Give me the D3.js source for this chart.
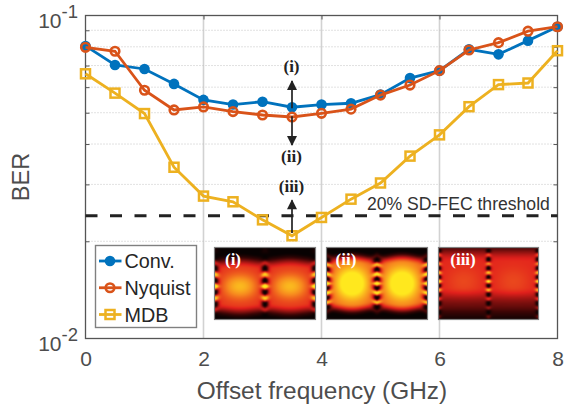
<!DOCTYPE html>
<html>
<head>
<meta charset="utf-8">
<script src="https://cdn.jsdelivr.net/npm/d3@7"></script>
<style>
  html, body { margin: 0; padding: 0; background: #fff; }
  svg { display: block; }
  text { font-family: "Liberation Sans", Arial, sans-serif; }
</style>
</head>
<body>
<div id="graph"></div>
<script>
var offsets = [0, 0.5, 1, 1.5, 2, 2.5, 3, 3.5, 4, 4.5, 5, 5.5, 6, 6.5, 7, 7.5, 8];
var conv = [0.0805, 0.0703, 0.0683, 0.0614, 0.0548, 0.0530, 0.0541, 0.0520, 0.0530, 0.0535, 0.0569, 0.0640, 0.0675, 0.0786, 0.0758, 0.0836, 0.0923];
var nyquist = [0.0797, 0.0775, 0.0587, 0.0510, 0.0521, 0.0504, 0.0492, 0.0485, 0.0498, 0.0513, 0.0567, 0.0609, 0.0675, 0.0782, 0.0824, 0.0894, 0.0923];
var mdb = [0.0660, 0.0575, 0.0497, 0.0339, 0.0276, 0.0265, 0.0233, 0.0208, 0.0237, 0.0270, 0.0303, 0.0367, 0.0427, 0.0522, 0.0611, 0.0618, 0.0778];
var threshold = 0.024;
var xTicks = [0, 2, 4, 6, 8];
var yMinor = [0.09, 0.08, 0.07, 0.06, 0.05, 0.04, 0.03, 0.02];
var seriesNames = ["Conv.", "Nyquist", "MDB"];
var seriesColors = ["#0072BD", "#D95319", "#EDB120"];

var width = 564,
    height = 409,
    left = 85.5,
    right = 557.5,
    top_ = 15.5,
    bottom = 338.5;

var svg = d3.select("#graph").append("svg")
    .attr("width", width)
    .attr("height", height);

var x = d3.scaleLinear().domain([0, 8]).range([left, right]);
var y = d3.scaleLog().domain([0.01, 0.1]).range([bottom, top_]);

// grid
svg.append("g").selectAll("line")
    .data(xTicks.slice(1, 4))
    .enter().append("line")
    .attr("x1", function(d) { return x(d); })
    .attr("x2", function(d) { return x(d); })
    .attr("y1", top_)
    .attr("y2", bottom)
    .attr("stroke", "#d2d2d2")
    .attr("stroke-width", 1.6);

svg.append("g").selectAll("line")
    .data(yMinor)
    .enter().append("line")
    .attr("x1", left)
    .attr("x2", right)
    .attr("y1", function(d) { return y(d); })
    .attr("y2", function(d) { return y(d); })
    .attr("stroke", "#c4c4c4")
    .attr("stroke-width", 1)
    .attr("stroke-dasharray", "1 2");

// eye diagram insets
var hot = d3.scaleLinear()
    .domain([0, 0.14, 0.45, 0.72, 1])
    .range(["#080202", "#3a0505", "#e2201c", "#f78a1e", "#ffe81e"])
    .clamp(true);

function smooth(a, b, t) {
    var s = Math.max(0, Math.min(1, (t - a) / (b - a)));
    return s * s * (3 - 2 * s);
}

function eye(p, w, h) {
    var canvas = document.createElement("canvas");
    canvas.width = w;
    canvas.height = h;
    var ctx = canvas.getContext("2d");
    for (var j = 0; j < h; j++) {
        for (var i = 0; i < w; i++) {
            var u = i / (w - 1), v = j / (h - 1);
            var d = Math.abs(v - p.center);
            var e = Math.cos(4 * Math.PI * u);
            var half = p.half - p.pinch * (e + 1) / 2;
            var env = 1 - smooth(half - p.soft, half + p.soft, d);
            var flat = Math.pow((1 - e) / 2, 0.8);
            var q = d / p.spread;
            var body = env * (p.base + p.glow * Math.exp(-q * q) * flat);
            var dc = Math.min(Math.abs(u), Math.abs(u - 0.5), Math.abs(u - 1));
            var gx = Math.exp(-dc * dc / (p.sw * p.sw));
            var bent = d + p.bend * dc;
            var stripe = 0.5 + 0.5 * Math.cos(2 * Math.PI * bent / p.period);
            var sv = Math.pow(stripe, 1.4) * Math.max(0.3, 1.08 - d * p.fade);
            var val = body * (1 - gx) + gx * sv * (p.full ? 1 : (0.15 + env));
            // the lower half of (iii) is duller
            if (p.full) val *= 1 - 0.45 * smooth(0.55, 0.8, v);
            ctx.fillStyle = hot(val);
            ctx.fillRect(i, j, 1, 1);
        }
    }
    return canvas.toDataURL();
}

var insets = [
    { label: "(i)", x0: 214.5, x1: 315.5, lx: 233, center: 0.54, half: 0.37, pinch: 0.03, soft: 0.11, base: 0.5, glow: 0.36, spread: 0.17, sw: 0.036, bend: 0.3, period: 0.17, fade: 1.5, full: false },
    { label: "(ii)", x0: 326.5, x1: 427.5, lx: 346, center: 0.5, half: 0.38, pinch: 0.04, soft: 0.09, base: 0.6, glow: 0.6, spread: 0.24, sw: 0.04, bend: 0.4, period: 0.135, fade: 1.0, full: false },
    { label: "(iii)", x0: 438.5, x1: 538.5, lx: 463, center: 0.47, half: 0.44, pinch: 0, soft: 0.17, base: 0.47, glow: 0.08, spread: 0.2, sw: 0.026, bend: 0.2, period: 0.125, fade: 1.3, full: true }
];
var insetTop = 247.5, insetBottom = 319.5;

var insetG = svg.append("g").selectAll("g")
    .data(insets)
    .enter().append("g");

insetG.append("image")
    .attr("x", function(d) { return d.x0; })
    .attr("y", insetTop)
    .attr("width", function(d) { return d.x1 - d.x0; })
    .attr("height", insetBottom - insetTop)
    .attr("preserveAspectRatio", "none")
    .attr("href", function(d) { return eye(d, Math.round(d.x1 - d.x0), insetBottom - insetTop); });

insetG.append("rect")
    .attr("x", function(d) { return d.x0; })
    .attr("y", insetTop)
    .attr("width", function(d) { return d.x1 - d.x0; })
    .attr("height", insetBottom - insetTop)
    .attr("fill", "none")
    .attr("stroke", "#808080")
    .attr("stroke-width", 1.2);

insetG.append("text")
    .attr("x", function(d) { return d.lx; })
    .attr("y", 265)
    .attr("text-anchor", "middle")
    .attr("fill", "#fff")
    .style("font-family", "'Liberation Serif', serif")
    .style("font-weight", "bold")
    .style("font-size", "17px")
    .text(function(d) { return d.label; });

// axes box
svg.append("rect")
    .attr("x", left)
    .attr("y", top_)
    .attr("width", right - left)
    .attr("height", bottom - top_)
    .attr("fill", "none")
    .attr("stroke", "#555")
    .attr("stroke-width", 1.3);

var xAxis = d3.axisBottom(x).tickValues(xTicks).tickSize(0).tickPadding(13).tickFormat(d3.format("d"));
var xg = svg.append("g").attr("transform", "translate(0," + bottom + ")").call(xAxis);
xg.select(".domain").remove();
xg.selectAll("text")
    .style("font-size", "21px")
    .style("font-family", "'Liberation Sans', Arial, sans-serif")
    .attr("fill", "#4d4d4d");

var yAxis = d3.axisLeft(y).tickValues(yMinor).tickSize(-4).tickFormat("");
var yg = svg.append("g").attr("transform", "translate(" + left + ",0)").call(yAxis);
yg.select(".domain").remove();
yg.selectAll("line").attr("stroke", "#555");

var yAxisR = d3.axisRight(y).tickValues(yMinor).tickSize(-4).tickFormat("");
var yr = svg.append("g").attr("transform", "translate(" + right + ",0)").call(yAxisR);
yr.select(".domain").remove();
yr.selectAll("line").attr("stroke", "#555");

var xAxisTop = d3.axisTop(x).tickValues(xTicks.slice(1, 4)).tickSize(-4).tickFormat("");
var xt = svg.append("g").attr("transform", "translate(0," + top_ + ")").call(xAxisTop);
xt.select(".domain").remove();
xt.selectAll("line").attr("stroke", "#555");

// y decade labels
var decades = [{ v: 0.1, sup: "-1" }, { v: 0.01, sup: "-2" }];
var decade = svg.append("g").selectAll("g")
    .data(decades)
    .enter().append("g")
    .attr("transform", function(d) { return "translate(0," + y(d.v) + ")"; });
decade.append("text")
    .attr("x", 61.5)
    .attr("y", 12.2)
    .attr("text-anchor", "end")
    .attr("fill", "#4d4d4d")
    .style("font-size", "21px")
    .text("10");
decade.append("text")
    .attr("x", 61.5)
    .attr("y", 2.5)
    .attr("fill", "#4d4d4d")
    .style("font-size", "18.5px")
    .text(function(d) { return d.sup; });

svg.append("text")
    .attr("x", (left + right) / 2 + 0.5)
    .attr("y", 398.5)
    .attr("text-anchor", "middle")
    .attr("fill", "#4d4d4d")
    .style("font-size", "24.4px")
    .text("Offset frequency (GHz)");

svg.append("text")
    .attr("transform", "translate(29,177) rotate(-90)")
    .attr("text-anchor", "middle")
    .attr("fill", "#4d4d4d")
    .style("font-size", "23.5px")
    .text("BER");

// threshold
svg.append("line")
    .attr("x1", left)
    .attr("x2", right)
    .attr("y1", y(threshold))
    .attr("y2", y(threshold))
    .attr("stroke", "#222")
    .attr("stroke-width", 3)
    .attr("stroke-dasharray", "12 12.5");

svg.append("text")
    .attr("x", 367)
    .attr("y", 210)
    .attr("fill", "#333")
    .style("font-size", "17.6px")
    .text("20% SD-FEC threshold");

// series
var line = d3.line()
    .x(function(d, i) { return x(offsets[i]); })
    .y(function(d) { return y(d); });

function drawMarker(sel, kind, color, px, py) {
    if (kind == 0) {
        sel.append("circle").attr("cx", px).attr("cy", py).attr("r", 5.3).attr("fill", color);
    } else if (kind == 1) {
        sel.append("circle").attr("cx", px).attr("cy", py).attr("r", 4.3)
            .attr("fill", "none").attr("stroke", color).attr("stroke-width", 2.6);
    } else {
        sel.append("rect").attr("x", px - 4.5).attr("y", py - 4.5).attr("width", 9).attr("height", 9)
            .attr("fill", "none").attr("stroke", color).attr("stroke-width", 2.5);
    }
}

[conv, nyquist, mdb].forEach(function(vals, s) {
    var g = svg.append("g");
    g.append("path")
        .attr("d", line(vals))
        .attr("fill", "none")
        .attr("stroke", seriesColors[s])
        .attr("stroke-width", 2.8);
    vals.forEach(function(v, i) {
        drawMarker(g, s, seriesColors[s], x(offsets[i]), y(v));
    });
});

// arrows
svg.append("defs").append("marker")
    .attr("id", "head")
    .attr("viewBox", "0 0 10 10")
    .attr("refX", 9)
    .attr("refY", 5)
    .attr("markerUnits", "userSpaceOnUse")
    .attr("markerWidth", 11)
    .attr("markerHeight", 10)
    .attr("orient", "auto")
    .append("path")
    .attr("d", "M0,0L10,5L0,10Z")
    .attr("fill", "#222");

var arrows = [
    { from: 0.0516, to: 0.0627 },
    { from: 0.0488, to: 0.0397 },
    { from: 0.0212, to: 0.0268 }
];
svg.append("g").selectAll("line")
    .data(arrows)
    .enter().append("line")
    .attr("x1", x(3.5))
    .attr("x2", x(3.5))
    .attr("y1", function(d) { return y(d.from); })
    .attr("y2", function(d) { return y(d.to); })
    .attr("stroke", "#222")
    .attr("stroke-width", 1.7)
    .attr("marker-end", "url(#head)");

var arrowLabels = [{ t: "(i)", v: 0.0695 }, { t: "(ii)", v: 0.0366 }, { t: "(iii)", v: 0.0296 }];
svg.append("g").selectAll("text")
    .data(arrowLabels)
    .enter().append("text")
    .attr("x", x(3.5) - 0.5)
    .attr("y", function(d) { return y(d.v) + 5.5; })
    .attr("text-anchor", "middle")
    .attr("fill", "#222")
    .style("font-family", "'Liberation Serif', serif")
    .style("font-weight", "bold")
    .style("font-size", "17px")
    .text(function(d) { return d.t; });

// legend
var legend = svg.append("g");
legend.append("rect")
    .attr("x", 95.5)
    .attr("y", 245.5)
    .attr("width", 101)
    .attr("height", 82)
    .attr("fill", "#fff")
    .attr("stroke", "#808080")
    .attr("stroke-width", 1.4);

var legendY = d3.scalePoint().domain(seriesNames).range([261, 314.5]);
seriesNames.forEach(function(name, s) {
    var ly = legendY(name);
    var g = legend.append("g");
    g.append("line")
        .attr("x1", 99)
        .attr("x2", 121.5)
        .attr("y1", ly)
        .attr("y2", ly)
        .attr("stroke", seriesColors[s])
        .attr("stroke-width", 2.8);
    drawMarker(g, s, seriesColors[s], 110, ly);
    g.append("text")
        .attr("x", 124.5)
        .attr("y", ly + 7)
        .attr("fill", "#262626")
        .style("font-size", "19.8px")
        .text(name);
});
</script>
</body>
</html>
